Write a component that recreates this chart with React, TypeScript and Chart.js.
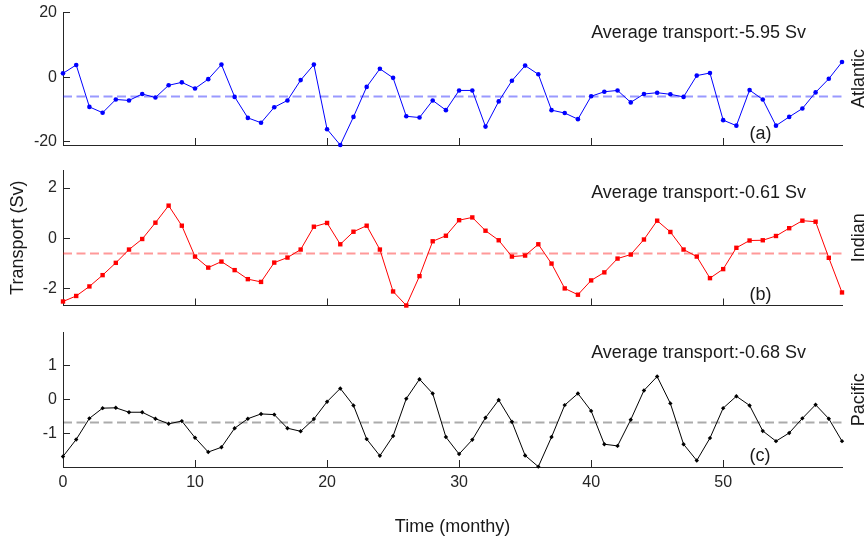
import React, { useEffect, useRef } from 'react';
import { Chart, registerables } from 'chart.js';

Chart.register(...registerables);

// ---------- data ----------
const months: number[] = Array.from({ length: 60 }, (_, i) => i);
const xTicks = [0, 10, 20, 30, 40, 50];

const atlantic = [
  1.2, 3.8, -9.2, -11.0, -6.9, -7.2, -5.2, -6.3, -2.5, -1.6,
  -3.5, -0.6, 3.9, -6.1, -12.6, -14.1, -9.3, -7.2, -0.9, 3.9,
  -16.1, -21.0, -12.3, -3.0, 2.6, -0.2, -12.1, -12.5, -7.2, -10.2,
  -4.1, -4.1, -15.3, -7.5, -1.1, 3.6, 0.9, -10.2, -11.1, -13.0,
  -5.9, -4.5, -4.1, -7.8, -5.2, -4.8, -5.3, -6.1, 0.5, 1.3,
  -13.3, -15.0, -4.0, -6.9, -15.0, -12.3, -9.7, -4.7, -0.5, 4.7,
];
const indian = [
  -2.52, -2.3, -1.92, -1.47, -0.98, -0.45, -0.03, 0.62, 1.3, 0.5,
  -0.73, -1.17, -0.93, -1.27, -1.63, -1.74, -0.97, -0.77, -0.45, 0.46,
  0.61, -0.24, 0.26, 0.5, -0.45, -2.12, -2.68, -1.51, -0.12, 0.1,
  0.72, 0.83, 0.3, -0.08, -0.73, -0.69, -0.24, -1.01, -2.0, -2.25,
  -1.68, -1.36, -0.81, -0.65, -0.05, 0.7, 0.25, -0.45, -0.73, -1.59,
  -1.23, -0.38, -0.09, -0.08, 0.09, 0.4, 0.7, 0.66, -0.78, -2.16,
];
const pacific = [
  -1.68, -1.18, -0.56, -0.26, -0.25, -0.38, -0.38, -0.57, -0.72, -0.64,
  -1.13, -1.55, -1.41, -0.85, -0.57, -0.43, -0.45, -0.85, -0.94, -0.58,
  -0.07, 0.32, -0.18, -1.17, -1.66, -1.08, 0.02, 0.59, 0.17, -1.11,
  -1.61, -1.19, -0.54, -0.02, -0.66, -1.65, -1.98, -1.11, -0.17, 0.17,
  -0.34, -1.32, -1.37, -0.6, 0.26, 0.67, -0.12, -1.32, -1.8, -1.14,
  -0.26, 0.09, -0.18, -0.93, -1.23, -0.99, -0.56, -0.16, -0.57, -1.23,
];

const averages = [-5.95, -0.61, -0.68];
const basins = ['Atlantic', 'Indian', 'Pacific'];
const tags = ['(a)', '(b)', '(c)'];
const atlanticTicks = [-20, 0, 20];
const indianTicks = [-2, 0, 2];
const pacificTicks = [-1, 0, 1];
const atlanticRange = [-21, 20.2];
const indianRange = [-2.68, 2.72];
const pacificRange = [-1.99, 1.97];
// annotation anchors in data coordinates [x, y]
const avgAnchors = [[40, 12.2], [40, 1.61], [40, 1.22]];
const tagAnchors = [[52, -19.2], [52, -2.45], [52, -1.81]];

// ---------- styling ----------
const FONT = '"Liberation Sans", Arial, Helvetica, sans-serif';
const AXIS = '#262626';
const TEXT = '#1a1a1a';
Chart.defaults.font.family = FONT;

type PanelCfg = {
  values: number[];
  avg: number;
  yTicks: number[];
  range: number[];
  color: string;
  dashColor: string;
  pointStyle: any;
  pointRadius: number;
  basin: string;
  tag: string;
  avgAnchor: number[];
  tagAnchor: number[];
  top: number;
  height: number;
  padTop: number;
  padBottom: number;
  xHeight: number;
  showX: boolean;
  yTitle: string;
};

const panels: PanelCfg[] = [
  {
    values: atlantic, avg: averages[0], yTicks: atlanticTicks, range: atlanticRange,
    color: '#0000ff', dashColor: 'rgba(0,0,255,0.4)', pointStyle: 'circle', pointRadius: 2.3,
    basin: basins[0], tag: tags[0], avgAnchor: avgAnchors[0], tagAnchor: tagAnchors[0],
    top: 0, height: 160, padTop: 12, padBottom: 15, xHeight: 0, showX: false, yTitle: '',
  },
  {
    values: indian, avg: averages[1], yTicks: indianTicks, range: indianRange,
    color: '#ff0000', dashColor: 'rgba(255,0,0,0.4)', pointStyle: 'rect', pointRadius: 3.1,
    basin: basins[1], tag: tags[1], avgAnchor: avgAnchors[1], tagAnchor: tagAnchors[1],
    top: 160, height: 160, padTop: 10, padBottom: 14.5, xHeight: 0, showX: false, yTitle: 'Transport (Sv)',
  },
  {
    values: pacific, avg: averages[2], yTicks: pacificTicks, range: pacificRange,
    color: '#000000', dashColor: 'rgba(0,0,0,0.33)', pointStyle: 'rectRot', pointRadius: 2.2,
    basin: basins[2], tag: tags[2], avgAnchor: avgAnchors[2], tagAnchor: tagAnchors[2],
    top: 320, height: 220, padTop: 12.3, padBottom: 0, xHeight: 73, showX: true, yTitle: '',
  },
];

function makeAnnotPlugin(cfg: PanelCfg) {
  return {
    id: 'annot',
    afterDatasetsDraw(chart: any) {
      const { ctx, chartArea, scales } = chart;
      const x = scales.x;
      const y = scales.y;
      ctx.save();
      ctx.fillStyle = TEXT;
      ctx.font = `18px ${FONT}`;
      ctx.textAlign = 'left';
      ctx.textBaseline = 'alphabetic';
      ctx.fillText(
        `Average transport:${cfg.avg.toFixed(2)} Sv`,
        x.getPixelForValue(cfg.avgAnchor[0]),
        y.getPixelForValue(cfg.avgAnchor[1])
      );
      ctx.fillText(cfg.tag, x.getPixelForValue(cfg.tagAnchor[0]), y.getPixelForValue(cfg.tagAnchor[1]));
      ctx.translate(chart.width, (chartArea.top + chartArea.bottom) / 2);
      ctx.rotate(-Math.PI / 2);
      ctx.textAlign = 'center';
      ctx.fillText(cfg.basin, 0, 0);
      ctx.restore();
    },
  };
}

function Panel({ cfg }: { cfg: PanelCfg }) {
  const ref = useRef<HTMLCanvasElement>(null);
  useEffect(() => {
    const chart = new Chart(ref.current as HTMLCanvasElement, {
      type: 'line',
      data: {
        datasets: [
          {
            data: cfg.values.map((v, i) => ({ x: months[i], y: v })),
            borderColor: cfg.color,
            backgroundColor: cfg.color,
            borderWidth: 1,
            pointStyle: cfg.pointStyle,
            pointRadius: cfg.pointRadius,
            pointBorderWidth: 0,
            pointBackgroundColor: cfg.color,
            tension: 0,
            clip: false as any,
          },
          {
            data: [
              { x: months[0], y: cfg.avg },
              { x: months[months.length - 1], y: cfg.avg },
            ],
            borderColor: cfg.dashColor,
            borderWidth: 2,
            borderDash: [9, 4.5],
            pointRadius: 0,
            tension: 0,
            clip: false as any,
          },
        ],
      },
      options: {
        responsive: false,
        animation: false,
        events: [],
        layout: { padding: { left: 0, right: 22, top: cfg.padTop, bottom: cfg.padBottom } },
        plugins: { legend: { display: false }, tooltip: { enabled: false } },
        scales: {
          x: {
            type: 'linear',
            min: months[0],
            max: months[months.length - 1],
            afterBuildTicks: (s: any) => {
              s.ticks = xTicks.map((v) => ({ value: v }));
            },
            afterFit: (s: any) => {
              s.height = cfg.xHeight;
              s.paddingLeft = 0;
              s.paddingRight = 0;
              s.paddingTop = 0;
              s.paddingBottom = 0;
            },
            grid: { display: true, drawOnChartArea: false, drawTicks: true, tickLength: -7, color: AXIS, lineWidth: 1 },
            border: { display: true, color: AXIS, width: 1 },
            ticks: { display: cfg.showX, padding: 13, color: AXIS, font: { size: 16, family: FONT }, maxRotation: 0 },
            title: {
              display: cfg.showX,
              text: 'Time (monthy)',
              color: TEXT,
              font: { size: 18, family: FONT },
              padding: { top: 0, bottom: 2.5 },
            },
          },
          y: {
            type: 'linear',
            min: cfg.range[0],
            max: cfg.range[1],
            afterBuildTicks: (s: any) => {
              s.ticks = cfg.yTicks.map((v) => ({ value: v }));
            },
            afterFit: (s: any) => {
              s.width = 63;
              s.paddingLeft = 0;
              s.paddingRight = 0;
              s.paddingTop = 0;
              s.paddingBottom = 0;
            },
            grid: { display: true, drawOnChartArea: false, drawTicks: true, tickLength: -7, color: AXIS, lineWidth: 1 },
            border: { display: true, color: AXIS, width: 1 },
            ticks: { padding: 13, color: AXIS, font: { size: 16, family: FONT } },
            title: {
              display: cfg.yTitle !== '',
              text: cfg.yTitle,
              color: TEXT,
              font: { size: 18, family: FONT },
              padding: { top: 7.7, bottom: 0 },
            },
          },
        },
      },
      plugins: [makeAnnotPlugin(cfg)],
    } as any);
    return () => chart.destroy();
  }, [cfg]);
  return (
    <div style={{ position: 'absolute', left: 0, top: cfg.top, width: 864, height: cfg.height }}>
      <canvas ref={ref} width={864} height={cfg.height} style={{ display: 'block' }} />
    </div>
  );
}

export default function App() {
  return (
    <div style={{ position: 'absolute', left: 0, top: 0, width: 864, height: 540, background: '#fff' }}>
      {panels.map((p) => (
        <Panel key={p.basin} cfg={p} />
      ))}
    </div>
  );
}
